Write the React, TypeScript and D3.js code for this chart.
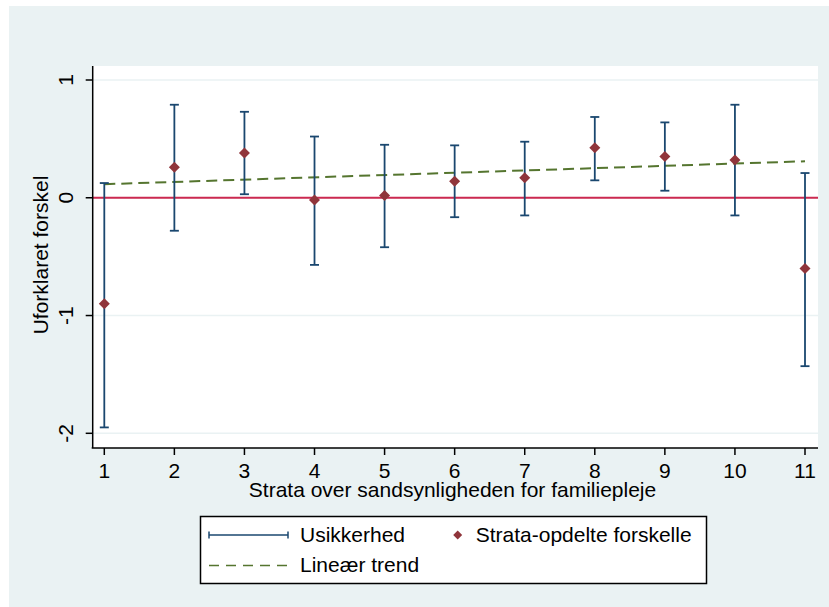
import React from "react";
import * as d3 from "d3";

const strata = [1, 2, 3, 4, 5, 6, 7, 8, 9, 10, 11];
const estimates = [-0.9, 0.26, 0.38, -0.02, 0.02, 0.14, 0.17, 0.425, 0.35, 0.32, -0.6];
const ciUpper = [0.125, 0.79, 0.73, 0.52, 0.45, 0.445, 0.476, 0.686, 0.64, 0.79, 0.21];
const ciLower = [-1.95, -0.28, 0.03, -0.57, -0.42, -0.165, -0.15, 0.148, 0.06, -0.15, -1.43];
const trendX = [1, 11];
const trendY = [0.115, 0.31];
const yTicks = [1, 0, -1, -2];
const xTicks = [1, 2, 3, 4, 5, 6, 7, 8, 9, 10, 11];

const NAVY = "#1a476f";
const MAROON = "#90353b";
const GREEN = "#55752f";
const RED = "#cc2a50";
const BG = "#eaf2f3";
const FONT = "'Liberation Sans', Arial, sans-serif";
const FS = 21;

export default function App() {
  const plotLeft = 92.7;
  const plotRight = 818;
  const plotTop = 66;
  const plotBottom = 448;
  const x = d3.scaleLinear().domain([1, 11]).range([104.3, 805]);
  const y = d3.scaleLinear().domain([-2, 1]).range([433.3, 80]);
  const trendLine = d3
    .line<number>()
    .x((d) => x(d))
    .y((_, i) => y(trendY[i]));
  const diamond = (cx: number, cy: number, r: number) =>
    `M${cx},${cy - r}L${cx + r},${cy}L${cx},${cy + r}L${cx - r},${cy}Z`;

  return (
    <svg
      width={829}
      height={607}
      style={{ position: "absolute", left: 0, top: 0 }}
      fontFamily={FONT}
    >
      <rect x={0} y={0} width={829} height={607} fill="#ffffff" />
      <rect x={9} y={6} width={820} height={601} fill={BG} />
      <rect x={plotLeft} y={plotTop} width={plotRight - plotLeft} height={plotBottom - plotTop} fill="#ffffff" />
      {yTicks.map((t) => (
        <line key={"g" + t} x1={plotLeft} x2={plotRight} y1={y(t)} y2={y(t)} stroke={BG} strokeWidth={1.5} />
      ))}
      {/* zero line */}
      <line x1={plotLeft} x2={plotRight} y1={y(0)} y2={y(0)} stroke={RED} strokeWidth={1.8} />
      {/* trend */}
      <path d={trendLine(trendX) || ""} fill="none" stroke={GREEN} strokeWidth={2} strokeDasharray="11,6" />
      {/* error bars */}
      {strata.map((s, i) => (
        <g key={"e" + s} stroke={NAVY} strokeWidth={1.8}>
          <line x1={x(s)} x2={x(s)} y1={y(ciUpper[i])} y2={y(ciLower[i])} />
          <line x1={x(s) - 4.5} x2={x(s) + 4.5} y1={y(ciUpper[i])} y2={y(ciUpper[i])} />
          <line x1={x(s) - 4.5} x2={x(s) + 4.5} y1={y(ciLower[i])} y2={y(ciLower[i])} />
        </g>
      ))}
      {strata.map((s, i) => (
        <path key={"d" + s} d={diamond(x(s), y(estimates[i]), 5.5)} fill={MAROON} />
      ))}
      {/* axes */}
      <line x1={plotLeft} x2={plotLeft} y1={plotTop} y2={plotBottom} stroke="#000" strokeWidth={1.5} />
      <line x1={plotLeft - 1} x2={plotRight} y1={plotBottom} y2={plotBottom} stroke="#000" strokeWidth={1.5} />
      {yTicks.map((t) => (
        <g key={"yt" + t}>
          <line x1={plotLeft - 7} x2={plotLeft} y1={y(t)} y2={y(t)} stroke="#000" strokeWidth={1.5} />
          <text
            transform={`translate(73,${y(t)}) rotate(-90)`}
            textAnchor="middle"
            fontSize={FS}
            fill="#000"
          >
            {t}
          </text>
        </g>
      ))}
      {xTicks.map((t) => (
        <g key={"xt" + t}>
          <line x1={x(t)} x2={x(t)} y1={plotBottom} y2={plotBottom + 7} stroke="#000" strokeWidth={1.5} />
          <text x={x(t)} y={478} textAnchor="middle" fontSize={FS} fill="#000">
            {t}
          </text>
        </g>
      ))}
      <text x={452.5} y={497} textAnchor="middle" fontSize={FS} fill="#000">
        Strata over sandsynligheden for familiepleje
      </text>
      <text
        transform={`translate(48,255) rotate(-90)`}
        textAnchor="middle"
        fontSize={FS}
        fill="#000"
      >
        Uforklaret forskel
      </text>
      {/* legend */}
      <rect x={200.5} y={516.5} width={506} height={67} fill="#ffffff" stroke="#000" strokeWidth={1.5} />
      <g stroke={NAVY} strokeWidth={1.5}>
        <line x1={209} x2={288} y1={535} y2={535} />
        <line x1={209} x2={209} y1={531.5} y2={538.5} />
        <line x1={288} x2={288} y1={531.5} y2={538.5} />
      </g>
      <text x={300} y={542} fontSize={FS} fill="#000">Usikkerhed</text>
      <path d={diamond(457.7, 535, 4.5)} fill={MAROON} />
      <text x={475.7} y={542} fontSize={FS} fill="#000">Strata-opdelte forskelle</text>
      <line x1={209} x2={288} y1={565.5} y2={565.5} stroke={GREEN} strokeWidth={1.5} strokeDasharray="10,7" />
      <text x={300} y={572} fontSize={FS} fill="#000">Lineær trend</text>
    </svg>
  );
}
